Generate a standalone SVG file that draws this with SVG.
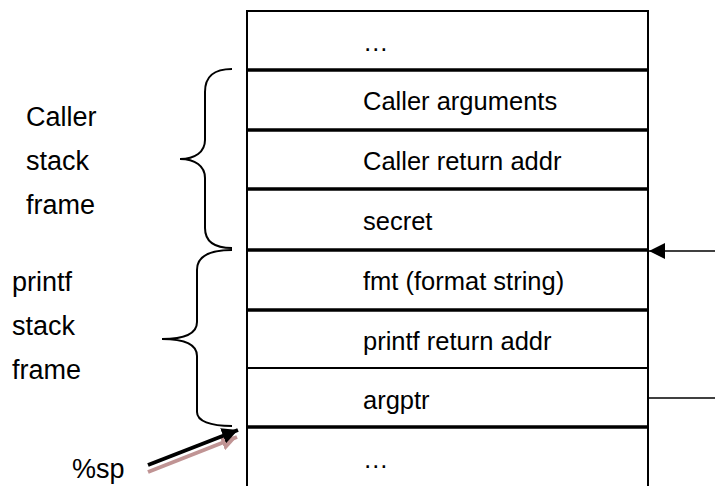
<svg xmlns="http://www.w3.org/2000/svg" width="715" height="486" viewBox="0 0 715 486">
<style>
  text { font-family: "Liberation Sans", Arial, sans-serif; font-size: 25.5px; fill: #000; }
  .lbl { font-size: 27px; }
  .thick { stroke: #000; stroke-width: 3.5; }
  .thin { stroke: #000; stroke-width: 2; }
  .brace { fill: none; stroke: #000; stroke-width: 2; }
</style>
<defs>
  <marker id="ah" viewBox="0 0 10 10" refX="10" refY="5" markerWidth="16" markerHeight="16" orient="auto" markerUnits="userSpaceOnUse">
    <path d="M0,0 L10,5 L0,10 z" fill="#000"/>
  </marker>
  <marker id="ah2" viewBox="0 0 10 10" refX="10" refY="5" markerWidth="16" markerHeight="16" orient="auto" markerUnits="userSpaceOnUse">
    <path d="M0,0 L10,5 L0,10 z" fill="#000"/>
  </marker>
  <marker id="ahs" viewBox="0 0 10 10" refX="10" refY="5" markerWidth="16" markerHeight="16" orient="auto" markerUnits="userSpaceOnUse">
    <path d="M0,0 L10,5 L0,10 z" fill="#c09494"/>
  </marker>
</defs>
<rect width="715" height="486" fill="#fff"/>
<g id="stack">
  <line class="thin" x1="247" y1="11" x2="648" y2="11"/>
  <line class="thin" x1="247" y1="10" x2="247" y2="486"/>
  <line class="thin" x1="648" y1="10" x2="648" y2="486"/>
  <line class="thick" x1="247" y1="70" x2="648" y2="70"/>
  <line class="thick" x1="247" y1="130" x2="648" y2="130"/>
  <line class="thick" x1="247" y1="189" x2="648" y2="189"/>
  <line class="thick" x1="247" y1="250" x2="648" y2="250"/>
  <line class="thick" x1="247" y1="310" x2="648" y2="310"/>
  <line class="thin" x1="247" y1="368" x2="648" y2="368"/>
  <line class="thick" x1="247" y1="427" x2="648" y2="427"/>
</g>
<g id="cells">
  <g id="cell-top"><text x="363" y="51">…</text></g>
  <g id="cell-caller-args"><text x="363" y="110">Caller arguments</text></g>
  <g id="cell-caller-ret"><text x="363" y="170">Caller return addr</text></g>
  <g id="cell-secret"><text x="363" y="230">secret</text></g>
  <g id="cell-fmt"><text x="363" y="290">fmt (format string)</text></g>
  <g id="cell-printf-ret"><text x="363" y="350">printf return addr</text></g>
  <g id="cell-argptr"><text x="363" y="409">argptr</text></g>
  <g id="cell-bottom"><text x="363" y="468">…</text></g>
</g>
<g id="caller-frame">
  <path class="brace" d="M232,69 C215,69 205,75 205,92 L205,140 C205,152 195,159 180,159 C195,159 205,166 205,178 L205,228 C205,242 215,248 232,248"/>
  <text class="lbl" x="26" y="126">Caller</text>
  <text class="lbl" x="26" y="170">stack</text>
  <text class="lbl" x="26" y="214">frame</text>
</g>
<g id="printf-frame">
  <path class="brace" d="M232,250 C210,250 197,256 197,270 L197,322 C197,333 185,339 162,339 C185,339 197,345 197,356 L197,412 C197,421 210,426 232,426"/>
  <text class="lbl" x="12" y="291">printf</text>
  <text class="lbl" x="12" y="335">stack</text>
  <text class="lbl" x="12" y="379">frame</text>
</g>
<g id="sp-label">
  <text class="lbl" x="72" y="478">%sp</text>
</g>
<g id="connectors">
  <line x1="715" y1="251" x2="649" y2="251" stroke="#000" stroke-width="1.5" marker-end="url(#ah)"/>
  <line x1="648" y1="398" x2="715" y2="398" stroke="#000" stroke-width="1.5"/>
  <line x1="148" y1="472" x2="237" y2="437" stroke="#c09494" stroke-width="4" marker-end="url(#ahs)"/>
  <line x1="148" y1="465" x2="238" y2="430" stroke="#000" stroke-width="4" marker-end="url(#ah2)"/>
</g>
</svg>
